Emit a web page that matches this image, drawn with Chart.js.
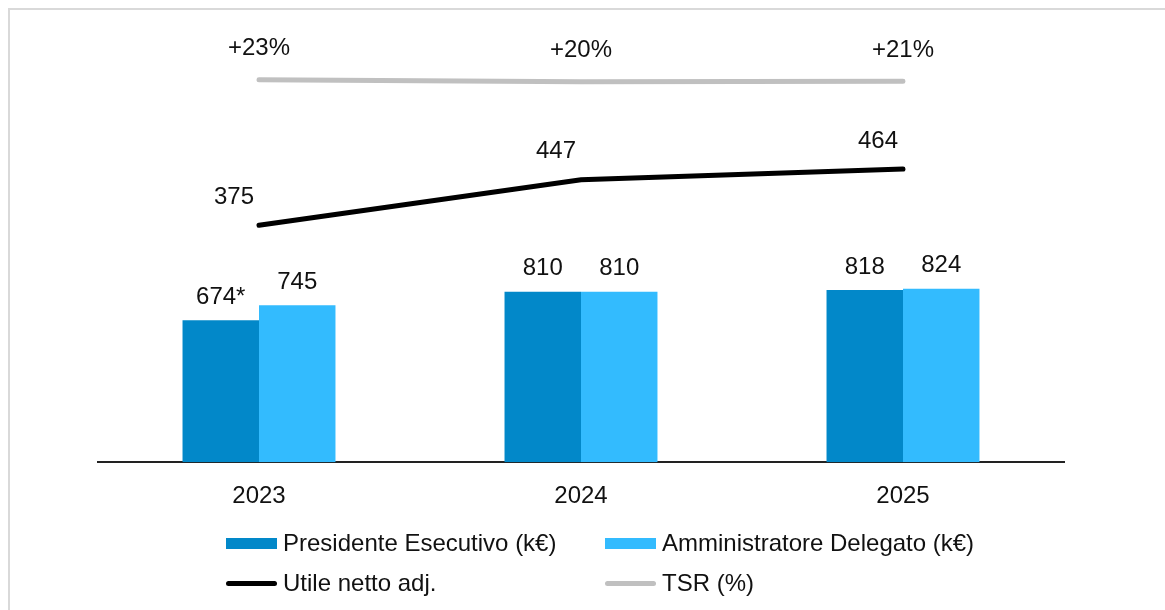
<!DOCTYPE html>
<html>
<head>
<meta charset="utf-8">
<script src="https://cdn.jsdelivr.net/npm/chart.js@4"></script>
<style>
  body { margin: 0; background: #fff; font-family: "Liberation Sans", Arial, sans-serif; }
  #wrap { position: relative; width: 1165px; height: 610px; overflow: hidden; }
  #frame { position: absolute; left: 8px; top: 8px; width: 1200px; height: 700px; border-left: 2px solid #d9d9d9; border-top: 2px solid #d9d9d9; }
  canvas { position: absolute; left: 0; top: 0; }
  .leg { position: absolute; font-size: 24px; color: #111; display: flex; align-items: center; white-space: nowrap; }
  .leg .box { width: 51px; height: 11px; margin-right: 6px; }
  .leg .ln { width: 51px; height: 5px; border-radius: 3px; margin-right: 6px; }
</style>
</head>
<body>
<div id="wrap">
  <div id="frame"></div>
  <canvas id="chart" width="1165" height="610"></canvas>
  <div id="legend"></div>
</div>
<script>
// categories and values
const years = ['2023', '2024', '2025'];
const presidente = [674, 810, 818];
const amministratore = [745, 810, 824];
const utileNetto = [375, 447, 464];
const tsr = [23, 20, 21];
const presidenteLabels = ['674*', '810', '818'];
const tsrLabels = ['+23%', '+20%', '+21%'];

const darkBlue = '#0288c9';
const lightBlue = '#33bbfe';
const fontFamily = '"Liberation Sans", Arial, sans-serif';

// small plugin to write the value labels above bars and lines
const valueLabels = {
    id: 'valueLabels',
    afterDatasetsDraw(chart) {
        const ctx = chart.ctx;
        ctx.save();
        ctx.font = '24px ' + fontFamily;
        ctx.fillStyle = '#111';
        ctx.textAlign = 'center';
        ctx.textBaseline = 'middle';
        chart.data.datasets.forEach((ds, i) => {
            const meta = chart.getDatasetMeta(i);
            meta.data.forEach((el, j) => {
                const txt = ds.labelsText ? ds.labelsText[j] : String(ds.data[j]);
                ctx.fillText(txt, el.x + (ds.labelDx || 0), el.y - ds.labelDy);
            });
        });
        ctx.restore();
    }
};

new Chart(document.getElementById('chart').getContext('2d'), {
    type: 'bar',
    data: {
        labels: years,
        datasets: [
            {
                type: 'line', label: 'TSR (%)', data: tsr, yAxisID: 'y3',
                borderColor: '#c0c0c0', borderWidth: 5, pointRadius: 0, tension: 0,
                borderCapStyle: 'round', labelsText: tsrLabels, labelDy: 31
            },
            {
                type: 'line', label: 'Utile netto adj.', data: utileNetto, yAxisID: 'y2',
                borderColor: '#000', borderWidth: 5, pointRadius: 0, tension: 0,
                borderCapStyle: 'round', labelDy: 28, labelDx: -25
            },
            {
                label: 'Presidente Esecutivo (k€)', data: presidente, yAxisID: 'y',
                backgroundColor: darkBlue, labelsText: presidenteLabels, labelDy: 23
            },
            {
                label: 'Amministratore Delegato (k€)', data: amministratore, yAxisID: 'y',
                backgroundColor: lightBlue, labelDy: 23
            }
        ]
    },
    options: {
        responsive: false,
        animation: false,
        layout: { padding: { left: 98, right: 101, top: 20, bottom: 87 } },
        datasets: { bar: { categoryPercentage: 0.475, barPercentage: 1.0 } },
        plugins: { legend: { display: false }, tooltip: { enabled: false } },
        scales: {
            x: {
                grid: { display: false },
                border: { display: true, color: '#222', width: 2 },
                ticks: { color: '#111', font: { size: 24, family: fontFamily }, padding: 12 }
            },
            y: { display: false, min: 0, max: 2100 },
            y2: { display: false, min: 0, max: 700 },
            y3: { display: false, min: -546, max: 112 }
        }
    },
    plugins: [valueLabels]
});

// html legend in two aligned columns
const legendItems = [
    { text: 'Presidente Esecutivo (k€)', color: darkBlue, kind: 'box', x: 226, y: 543 },
    { text: 'Amministratore Delegato (k€)', color: lightBlue, kind: 'box', x: 605, y: 543 },
    { text: 'Utile netto adj.', color: '#000', kind: 'ln', x: 226, y: 583 },
    { text: 'TSR (%)', color: '#c0c0c0', kind: 'ln', x: 605, y: 583 }
];
const legendEl = document.getElementById('legend');
legendItems.forEach(it => {
    const d = document.createElement('div');
    d.className = 'leg';
    d.style.left = it.x + 'px';
    d.style.top = (it.y - 14) + 'px';
    d.style.height = '28px';
    const s = document.createElement('span');
    s.className = it.kind;
    s.style.background = it.color;
    d.appendChild(s);
    d.appendChild(document.createTextNode(it.text));
    legendEl.appendChild(d);
});
</script>
</body>
</html>
